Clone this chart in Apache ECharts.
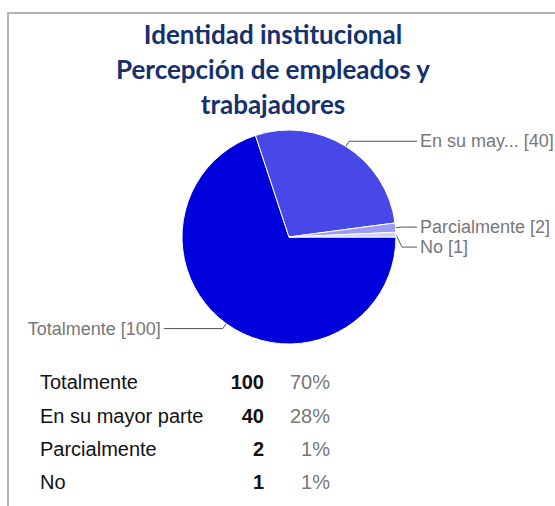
<!DOCTYPE html>
<html>
<head>
<meta charset="utf-8">
<script src="https://cdn.jsdelivr.net/npm/echarts@6/dist/echarts.min.js"></script>
<style>
  html, body { margin: 0; padding: 0; background: #fff; }
  #chart { width: 555px; height: 506px; }
</style>
</head>
<body>
<div id="chart"></div>
<script>
// datos
var categories = ['Totalmente', 'En su mayor parte', 'Parcialmente', 'No'];
var values = [100, 40, 2, 1];
var colors = ['#0000dc', '#4848e8', '#9c9cf0', '#d0d0f8'];
var titleLines = ['Identidad institucional', 'Percepción de empleados y', 'trabajadores'];

var chart = echarts.init(document.getElementById('chart'), null, { renderer: 'svg' });

var total = values.reduce(function (a, b) { return a + b; }, 0);

// nombre corto para la etiqueta del pastel
function shortName(name) {
    return name.length > 12 ? name.slice(0, 9) + '...' : name;
}

var pieData = categories.map(function (c, i) {
    var item = { name: c, value: values[i], itemStyle: { color: colors[i] } };
    if (i === 0) {
        item.labelLine = { length2: 59 };
    }
    return item;
});

// tabla de abajo
var tableFont = '20px "Liberation Sans", Arial, sans-serif';
var tableBold = 'bold 20px "Liberation Sans", Arial, sans-serif';
var rowY = [382, 416, 449, 482];
var graphics = [
    {
        type: 'polyline',
        shape: { points: [[8, 506], [8, 13], [555, 13]] },
        style: { stroke: '#b4b4b4', lineWidth: 2, fill: null }
    }
];
categories.forEach(function (c, i) {
    var pct = Math.round(values[i] / total * 100) + '%';
    graphics.push({
        type: 'text', x: 40, y: rowY[i],
        style: { text: c, font: tableFont, fill: '#111', textVerticalAlign: 'middle' }
    });
    graphics.push({
        type: 'text', x: 264, y: rowY[i],
        style: { text: String(values[i]), font: tableBold, fill: '#111', textAlign: 'right', textVerticalAlign: 'middle' }
    });
    graphics.push({
        type: 'text', x: 330, y: rowY[i],
        style: { text: pct, font: tableFont, fill: '#777', textAlign: 'right', textVerticalAlign: 'middle' }
    });
});

var option = {
    animation: false,
    title: {
        text: titleLines.join('\n'),
        left: 268,
        top: 11,
        textAlign: 'center',
        textStyle: {
            fontFamily: 'Lato',
            fontWeight: 'bold',
            fontSize: 26,
            lineHeight: 35,
            color: '#14306e'
        }
    },
    series: [
        {
            type: 'pie',
            center: [289, 237],
            radius: 107,
            startAngle: 0,
            clockwise: true,
            itemStyle: {
                borderColor: '#fff',
                borderWidth: 1
            },
            label: {
                formatter: function (p) {
                    return shortName(p.name) + ' [' + p.value + ']';
                },
                color: '#777',
                fontSize: 18,
                fontFamily: 'Liberation Sans',
                alignTo: 'labelLine',
                distanceToLabelLine: 3,
                overflow: 'none'
            },
            labelLine: {
                length: 6,
                length2: 15,
                lineStyle: { color: '#555', width: 1 }
            },
            emphasis: { disabled: true },
            data: pieData
        }
    ],
    graphic: graphics
};

chart.setOption(option);
</script>
</body>
</html>
